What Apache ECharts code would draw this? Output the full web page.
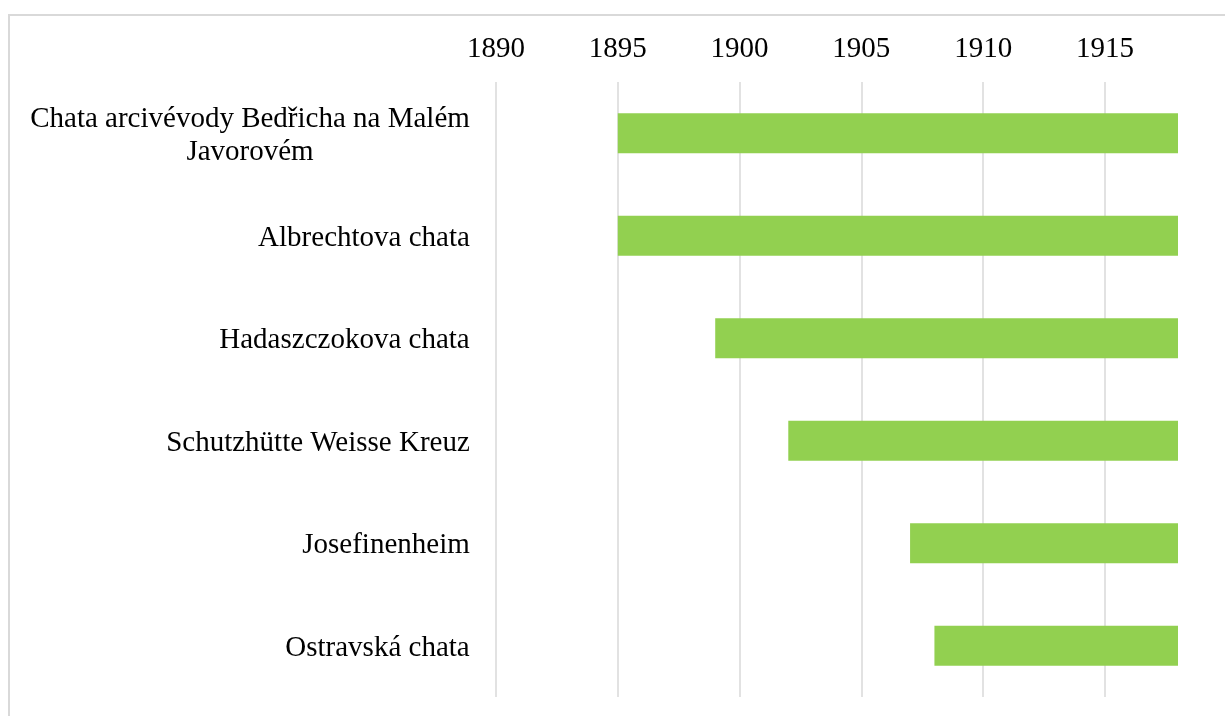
<!DOCTYPE html>
<html>
<head>
<meta charset="utf-8">
<script src="https://cdn.jsdelivr.net/npm/echarts@6/dist/echarts.min.js"></script>
<style>
  html, body { margin: 0; padding: 0; background: #ffffff; overflow: hidden; }
  #wrap { position: relative; width: 1225px; height: 716px; }
  #frame { position: absolute; left: 8px; top: 14px; width: 1400px; height: 900px;
           border-left: 2px solid #d9d9d9; border-top: 2px solid #d9d9d9; box-sizing: border-box; }
  #chart { position: absolute; left: 0; top: 0; width: 1225px; height: 716px; }
</style>
</head>
<body>
<div id="wrap">
  <div id="frame"></div>
  <div id="chart"></div>
</div>
<script>
// ---- data ----
const categories = [
  'Chata arcivévody Bedřicha na Malém Javorovém',
  'Albrechtova chata',
  'Hadaszczokova chata',
  'Schutzhütte Weisse Kreuz',
  'Josefinenheim',
  'Ostravská chata'
];
const startYears = [1895, 1895, 1899, 1902, 1907, 1908];
const endYears   = [1918, 1918, 1918, 1918, 1918, 1918];
const axisMin = 1890;
const axisMax = 1918;
const axisStep = 5;

// ---- helpers ----
const FONT = '"Liberation Serif", "Times New Roman", serif';
const FS = 29;
const LABEL_MAX_W = 450;
const ctx = document.createElement('canvas').getContext('2d');
ctx.font = FS + 'px ' + FONT;
function wrap(text) {
  const words = text.split(' ');
  const lines = [];
  let cur = '';
  words.forEach(w => {
    const t = cur ? cur + ' ' + w : w;
    if (cur && ctx.measureText(t).width > LABEL_MAX_W) { lines.push(cur); cur = w; }
    else cur = t;
  });
  if (cur) lines.push(cur);
  return lines;
}
const rich = {};
const labelText = {};
categories.forEach((c, i) => {
  const lines = wrap(c);
  const w = Math.ceil(Math.max.apply(null, lines.map(l => ctx.measureText(l).width)));
  rich['c' + i] = { width: w, align: 'center', fontSize: FS, fontFamily: FONT, color: '#000', lineHeight: 33 };
  labelText[c] = lines.map(l => '{c' + i + '|' + l + '}').join('\n');
});

const durations = startYears.map((s, i) => endYears[i] - s);

const chart = echarts.init(document.getElementById('chart'), null, { renderer: 'canvas' });
chart.setOption({
  backgroundColor: 'transparent',
  animation: false,
  grid: { left: 496, right: 47, top: 82, bottom: 19, containLabel: false },
  xAxis: {
    type: 'value',
    position: 'top',
    min: axisMin,
    max: axisMax,
    interval: axisStep,
    axisLine: { show: false },
    axisTick: { show: false },
    axisLabel: {
      showMaxLabel: false,
      margin: 18,
      fontSize: FS,
      fontFamily: FONT,
      color: '#000',
      formatter: v => (v % axisStep === 0 ? String(v) : '')
    },
    splitLine: { show: true, showMaxLine: false, lineStyle: { color: '#d9d9d9', width: 1.5 } }
  },
  yAxis: {
    type: 'category',
    inverse: true,
    data: categories,
    axisLine: { show: false },
    axisTick: { show: false },
    splitLine: { show: false },
    axisLabel: {
      margin: 26,
      fontSize: FS,
      fontFamily: FONT,
      color: '#000',
      align: 'right',
      padding: [5, 0, 0, 0],
      rich: rich,
      formatter: v => labelText[v]
    }
  },
  series: [
    {
      type: 'bar',
      stack: 'span',
      data: startYears,
      barWidth: 40,
      itemStyle: { color: 'rgba(0,0,0,0)' },
      silent: true
    },
    {
      type: 'bar',
      stack: 'span',
      data: durations,
      barWidth: 40,
      itemStyle: { color: '#92D050' }
    }
  ]
});
</script>
</body>
</html>
